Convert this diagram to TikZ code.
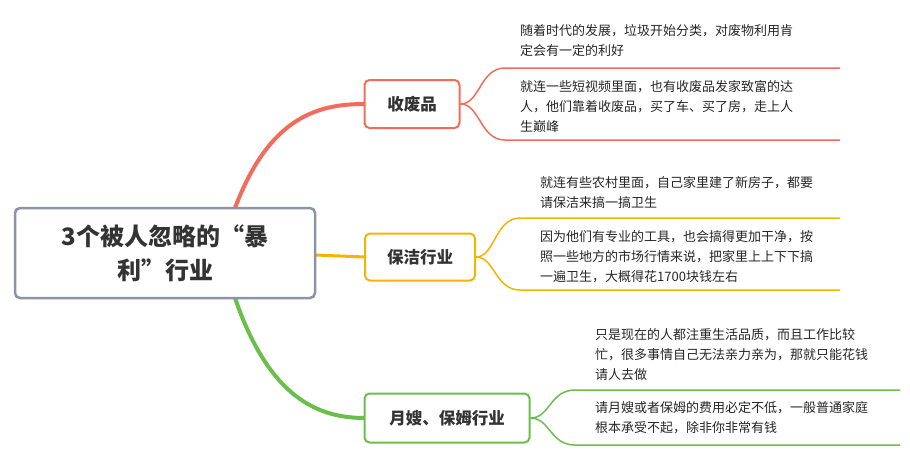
\documentclass[tikz,border=0pt]{standalone}
\usepackage{fontspec}
\setmainfont{Noto Sans CJK SC}
\usetikzlibrary{positioning}
\definecolor{rootc}{HTML}{8A94A6}
\definecolor{redc}{HTML}{F26B5B}
\definecolor{orac}{HTML}{F5B400}
\definecolor{grec}{HTML}{6ABF4B}
\tikzset{
	topic/.style={draw,rounded corners=5pt,line width=2pt,fill=white,inner sep=0pt,font=\fontsize{16.5}{18}\selectfont\bfseries,text=black!80},
	leaf/.style={anchor=north west,align=left,inner sep=0pt,font=\fontsize{13}{20}\selectfont,text=black!85},
	link/.style={line width=1.5pt}
}
\begin{document}
\begin{tikzpicture}[x=1pt,y=-1pt]
	\useasboundingbox (0,0) rectangle (910,467);
	% branches from the root
	\coordinate (r1) at (235,208);
	\coordinate (r3) at (235,298);
	\draw[redc,line width=4pt] (r1) .. controls (270,115) and (320,104) .. (365,104);
	\draw[grec,line width=4pt] (r3) .. controls (270,400) and (320,418) .. (365,418);
	\draw[orac,line width=3pt] (315,255) -- (365,257);
	% root
	\node[topic,draw=rootc,line width=2.5pt,minimum width=300pt,minimum height=90pt,align=center,font=\fontsize{24}{34}\selectfont\bfseries] (root) at (165,253) {3个被人忽略的“暴\\利”行业};
	% topics
	\node[topic,draw=redc,minimum width=95pt,minimum height=48pt] (waste) at (412,104) {收废品};
	\node[topic,draw=orac,minimum width=110pt,minimum height=47pt] (clean) at (420,257) {保洁行业};
	\node[topic,draw=grec,minimum width=165pt,minimum height=49pt] (nanny) at (447,418) {月嫂、保姆行业};
	% sub branches
	\draw[link,redc] (waste.east) .. controls (480,104) and (480,68) .. (505,68) -- (840,68);
	\draw[link,redc] (waste.east) .. controls (480,104) and (480,140) .. (505,140) -- (840,140);
	\draw[link,orac] (clean.east) .. controls (495,257) and (495,218) .. (520,218) -- (840,218);
	\draw[link,orac] (clean.east) .. controls (495,257) and (495,290) .. (520,290) -- (840,290);
	\draw[link,grec] (nanny.east) .. controls (550,418) and (550,390) .. (575,390) -- (900,390);
	\draw[link,grec] (nanny.east) .. controls (550,418) and (550,445) .. (575,445) -- (900,445);
	% texts
	\node[leaf] (w1) at (520,24) {随着时代的发展，垃圾开始分类，对废物利用肯\\定会有一定的利好};
	\node[leaf] (w2) at (520,80) {就连一些短视频里面，也有收废品发家致富的达\\人，他们靠着收废品，买了车、买了房，走上人\\生巅峰};
	\node[leaf] (c1) at (540,176) {就连有些农村里面，自己家里建了新房子，都要\\请保洁来搞一搞卫生};
	\node[leaf] (c2) at (540,230) {因为他们有专业的工具，也会搞得更加干净，按\\照一些地方的市场行情来说，把家里上上下下搞\\一遍卫生，大概得花1700块钱左右};
	\node[leaf] (n1) at (595,328) {只是现在的人都注重生活品质，而且工作比较\\忙，很多事情自己无法亲力亲为，那就只能花钱\\请人去做};
	\node[leaf] (n2) at (595,401) {请月嫂或者保姆的费用必定不低，一般普通家庭\\根本承受不起，除非你非常有钱};
\end{tikzpicture}
\end{document}
